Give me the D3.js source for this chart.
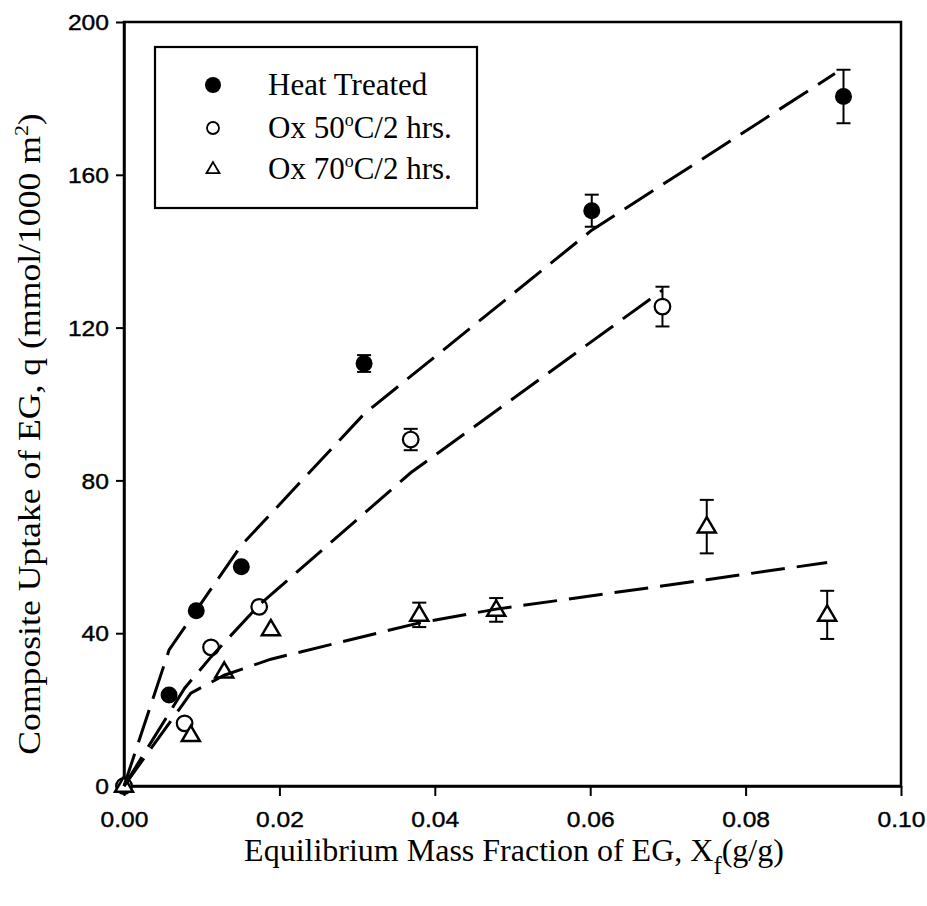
<!DOCTYPE html>
<html>
<head>
<meta charset="utf-8">
<script src="https://cdn.jsdelivr.net/npm/d3@7/dist/d3.min.js"></script>
<style>
  html, body { margin: 0; padding: 0; background: #fff; }
  svg { display: block; }
</style>
</head>
<body>
<svg id="chart" width="927" height="906"></svg>
<script>
// ---------------- data ----------------
const xTicks = [0, 0.02, 0.04, 0.06, 0.08, 0.10];
const yTicks = [0, 40, 80, 120, 160, 200];

const seriesNames = ["Heat Treated", "Ox 50", "Ox 70"];

// Heat Treated (filled circles)
const htX   = [0, 0.0058, 0.0093, 0.0151, 0.0309, 0.0602, 0.0926];
const htY   = [0, 23.8, 45.9, 57.4, 110.6, 150.6, 180.5];
const htErr = [0, 0, 0, 0, 2.2, 4.2, 7.0];
const htFitX = [0, 0.0058, 0.0093, 0.0151, 0.0309, 0.0602, 0.0915];
const htFitY = [0, 35.6, 46.0, 63.0, 97.4, 145.5, 186.5];

// Ox 50 C / 2 hrs (open circles)
const o50X   = [0, 0.0078, 0.0112, 0.0174, 0.0369, 0.0693];
const o50Y   = [0, 16.4, 36.3, 46.9, 90.7, 125.5];
const o50Err = [0, 0, 0, 0, 2.8, 5.2];
const o50FitX = [0, 0.0078, 0.0112, 0.0174, 0.0369, 0.0693];
const o50FitY = [0, 25.6, 33.8, 47.4, 82.0, 129.8];

// Ox 70 C / 2 hrs (open triangles)
const o70X   = [0, 0.0086, 0.0129, 0.0189, 0.0380, 0.0479, 0.0750, 0.0905];
const o70Y   = [0, 13.3, 29.9, 41.0, 44.8, 46.1, 67.9, 44.8];
const o70Err = [0, 0, 0, 0, 3.2, 3.1, 7.0, 6.3];
const o70FitX = [0, 0.0086, 0.0129, 0.0189, 0.0380, 0.0479, 0.0750, 0.0905];
const o70FitY = [0, 24.3, 29.0, 33.2, 42.7, 46.3, 54.0, 58.5];

// ---------------- drawing ----------------
const svg = d3.select("#chart");
const serif = "'Liberation Serif', 'Times New Roman', serif";
const sans = "'Liberation Sans', Arial, sans-serif";

const x = d3.scaleLinear().domain([0, 0.1]).range([124, 901]);
const y = d3.scaleLinear().domain([0, 200]).range([786, 22]);

// frame
svg.append("rect")
  .attr("x", x(0)).attr("y", y(200))
  .attr("width", x(0.1) - x(0)).attr("height", y(0) - y(200))
  .attr("fill", "none").attr("stroke", "#000").attr("stroke-width", 2.5);

// x axis
const xAxis = d3.axisBottom(x).tickValues(xTicks).tickSize(10).tickSizeOuter(0)
  .tickFormat(d3.format(".2f"));
const gx = svg.append("g").attr("transform", `translate(0,${y(0)})`).call(xAxis);
gx.select(".domain").attr("stroke-width", 2.5);
gx.selectAll(".tick line").attr("stroke-width", 2);
gx.selectAll(".tick text")
  .attr("font-family", sans).attr("font-size", 22)
  .attr("y", 0).attr("dy", 0).attr("fill", "#000")
  .attr("stroke", "#000").attr("stroke-width", 0.4)
  .attr("transform", "translate(0,41) scale(1.12,1)");

// y axis
const yAxis = d3.axisLeft(y).tickValues(yTicks).tickSize(8).tickSizeOuter(0);
const gy = svg.append("g").attr("transform", `translate(${x(0)},0)`).call(yAxis);
gy.select(".domain").attr("stroke-width", 2.5);
gy.selectAll(".tick line").attr("stroke-width", 2);
gy.selectAll(".tick text")
  .attr("font-family", sans).attr("font-size", 22)
  .attr("x", 0).attr("dy", "0.35em").attr("fill", "#000")
  .attr("stroke", "#000").attr("stroke-width", 0.4)
  .attr("transform", "translate(-15,0) scale(1.12,1)");

// axis titles
const xt = svg.append("text")
  .attr("x", 514).attr("y", 861)
  .attr("text-anchor", "middle")
  .attr("font-family", serif).attr("font-size", 32);
xt.append("tspan").text("Equilibrium Mass Fraction of EG, X");
xt.append("tspan").attr("dy", 13).attr("font-size", 25).text("f");
xt.append("tspan").attr("dy", -13).text("(g/g)");

const yt = svg.append("text")
  .attr("transform", "translate(40,434) rotate(-90) scale(1.15,1)")
  .attr("text-anchor", "middle")
  .attr("font-family", serif).attr("font-size", 31);
yt.append("tspan").text("Composite Uptake of EG, q (mmol/1000 m");
yt.append("tspan").attr("dy", -12).attr("font-size", 19).text("2");
yt.append("tspan").attr("dy", 12).text(")");

// error bars
function errorBars(xs, ys, es) {
  const g = svg.append("g").attr("stroke", "#000").attr("stroke-width", 2);
  xs.forEach((xv, i) => {
    const e = es[i];
    if (!e) return;
    const cx = x(xv), y1 = y(ys[i] + e), y2 = y(ys[i] - e);
    g.append("line").attr("x1", cx).attr("x2", cx).attr("y1", y1).attr("y2", y2);
    g.append("line").attr("x1", cx - 7).attr("x2", cx + 7).attr("y1", y1).attr("y2", y1);
    g.append("line").attr("x1", cx - 7).attr("x2", cx + 7).attr("y1", y2).attr("y2", y2);
  });
}
errorBars(htX, htY, htErr);
errorBars(o50X, o50Y, o50Err);
errorBars(o70X, o70Y, o70Err);

// markers (Heat treated first, then open circles, then triangles)
const triPath = (cx, cy, s) => {
  const h = s * 0.85;
  return `M${cx},${cy - h * 0.62}L${cx + s / 2},${cy + h * 0.38}L${cx - s / 2},${cy + h * 0.38}Z`;
};

svg.append("g").selectAll("circle").data(d3.zip(htX, htY)).join("circle")
  .attr("cx", d => x(d[0])).attr("cy", d => y(d[1])).attr("r", 8.5)
  .attr("fill", "#000");

svg.append("g").selectAll("circle").data(d3.zip(o50X, o50Y)).join("circle")
  .attr("cx", d => x(d[0])).attr("cy", d => y(d[1])).attr("r", 7.8)
  .attr("fill", "#fff").attr("stroke", "#000").attr("stroke-width", 2.2);

svg.append("g").selectAll("path").data(d3.zip(o70X, o70Y)).join("path")
  .attr("d", d => triPath(x(d[0]), y(d[1]), 18))
  .attr("fill", "#fff").attr("stroke", "#000").attr("stroke-width", 2.5);

// fit lines (drawn over the markers, as in the original)
const line = d3.line().x(d => x(d[0])).y(d => y(d[1]));
const fits = [
  d3.zip(htFitX, htFitY),
  d3.zip(o50FitX, o50FitY),
  d3.zip(o70FitX, o70FitY)
];
svg.append("g").selectAll("path").data(fits).join("path")
  .attr("d", line)
  .attr("fill", "none").attr("stroke", "#000")
  .attr("stroke-width", 3).attr("stroke-dasharray", "34,12");

// legend
const lg = svg.append("g");
lg.append("rect").attr("x", 155).attr("y", 47).attr("width", 322).attr("height", 161)
  .attr("fill", "#fff").attr("stroke", "#000").attr("stroke-width", 2.2);
const rows = [85, 128, 169];
lg.append("circle").attr("cx", 213).attr("cy", rows[0]).attr("r", 8).attr("fill", "#000");
lg.append("circle").attr("cx", 213).attr("cy", rows[1]).attr("r", 6)
  .attr("fill", "#fff").attr("stroke", "#000").attr("stroke-width", 1.8);
lg.append("path").attr("d", triPath(213, rows[2], 13))
  .attr("fill", "#fff").attr("stroke", "#000").attr("stroke-width", 1.8);

const legendTexts = [
  { main: "Heat Treated" },
  { pre: "Ox 50", post: "C/2 hrs." },
  { pre: "Ox 70", post: "C/2 hrs." }
];
legendTexts.forEach((t, i) => {
  const tx = lg.append("text").attr("x", 268).attr("y", rows[i] + 10)
    .attr("font-family", serif).attr("font-size", 31);
  if (t.main) { tx.text(t.main); return; }
  tx.append("tspan").text(t.pre);
  tx.append("tspan").attr("dy", -12).attr("font-size", 18).text("o");
  tx.append("tspan").attr("dy", 12).text(t.post);
});
</script>
</body>
</html>
